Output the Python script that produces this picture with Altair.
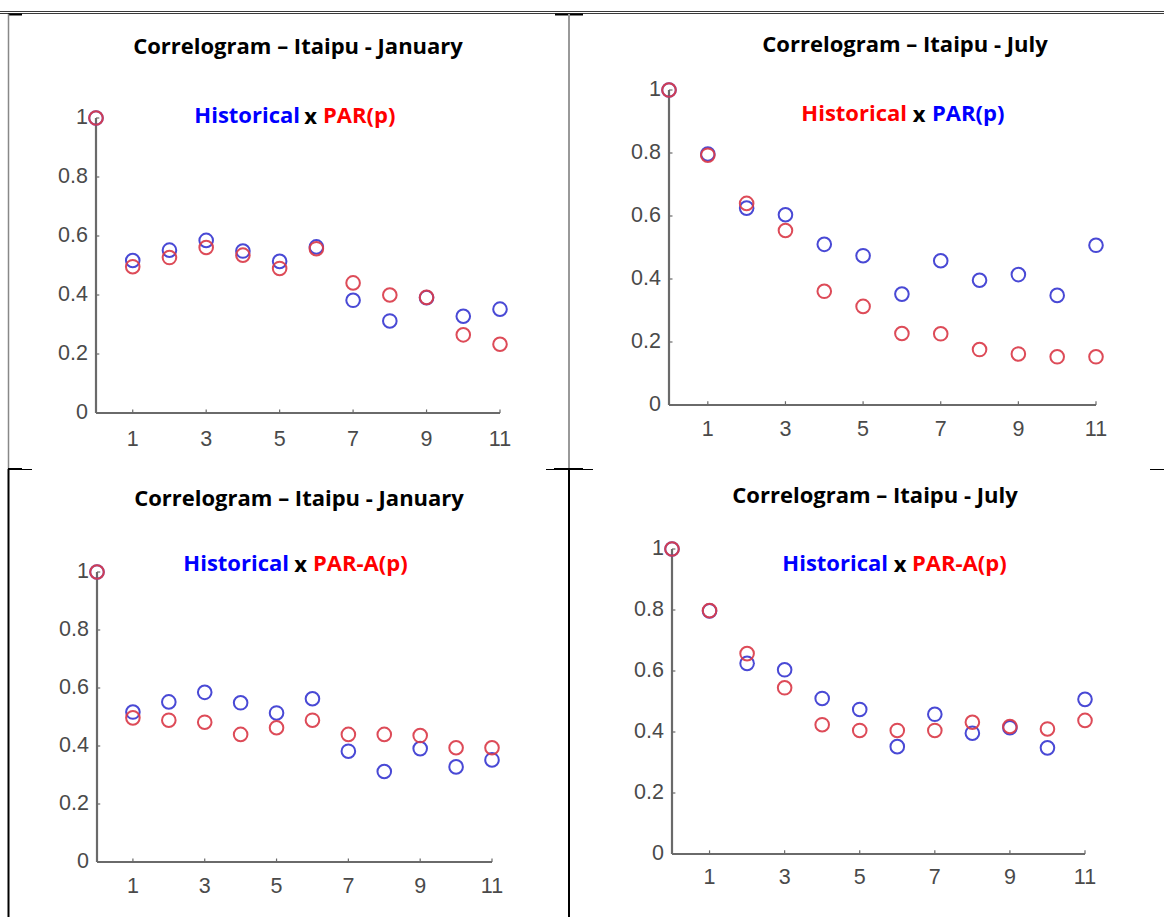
import altair as alt
import pandas as pd

# ---------------- data ----------------
lags = list(range(12))
hist_jan = [1.0, 0.517, 0.552, 0.585, 0.549, 0.514, 0.563, 0.382, 0.312, 0.391, 0.328, 0.352]
hist_jul = [1.0, 0.797, 0.625, 0.604, 0.510, 0.474, 0.352, 0.458, 0.396, 0.414, 0.348, 0.507]
par_jan = [1.0, 0.496, 0.527, 0.561, 0.535, 0.490, 0.557, 0.441, 0.400, 0.392, 0.265, 0.233]
par_jul = [1.0, 0.793, 0.640, 0.554, 0.361, 0.313, 0.227, 0.226, 0.176, 0.162, 0.153, 0.153]
para_jan = [1.0, 0.497, 0.489, 0.482, 0.440, 0.463, 0.489, 0.440, 0.440, 0.436, 0.394, 0.394]
para_jul = [1.0, 0.798, 0.657, 0.545, 0.424, 0.405, 0.405, 0.405, 0.432, 0.418, 0.410, 0.438]

x_tick_vals = [1, 3, 5, 7, 9, 11]
x_tick_text = ["1", "3", "5", "7", "9", "11"]
y_tick_vals = [0, 0.2, 0.4, 0.6, 0.8, 1.0]
y_tick_text = ["0", "0.2", "0.4", "0.6", "0.8", "1"]

titles = ["Correlogram \u2013 Itaipu - January", "Correlogram \u2013 Itaipu - July",
          "Correlogram \u2013 Itaipu - January", "Correlogram \u2013 Itaipu - July"]
sub_left = ["Historical", "Historical", "Historical", "Historical"]
sub_right = ["PAR(p)", "PAR(p)", "PAR-A(p)", "PAR-A(p)"]

# ---------------- styles ----------------
BLUE_T = "#0000ff"
RED_T = "#ff0000"
BLUE_M = "#3a3ad2"
RED_M = "#db3c4a"
AXIS_C = "#6a6a6a"
LABEL_C = "#4a4a4a"
TFONT = "Open Sans"
NFONT = "Liberation Sans"
TSIZE = 22
NSIZE = 21.5

layout = [
    dict(xr=[96, 500], yr=[413, 118], title=(298, 47), sub=(300, 310.5, 323, 116),
         hist=hist_jan, model=par_jan, lc=BLUE_T, rc=RED_T, xlab_dy=27),
    dict(xr=[669, 1096], yr=[405, 90], title=(905, 45), sub=(907, 919, 932, 114),
         hist=hist_jul, model=par_jul, lc=RED_T, rc=BLUE_T, xlab_dy=25),
    dict(xr=[97, 492], yr=[862, 572], title=(299, 499), sub=(289, 300.5, 313, 564),
         hist=hist_jan, model=para_jan, lc=BLUE_T, rc=RED_T, xlab_dy=25),
    dict(xr=[672, 1085], yr=[854, 549], title=(875, 496), sub=(888, 900, 912, 564),
         hist=hist_jul, model=para_jul, lc=BLUE_T, rc=RED_T, xlab_dy=24),
]

one = pd.DataFrame({"a": [0]})


def text_at(x, y, s, color, size, align, weight="bold", font=TFONT):
    return alt.Chart(one).mark_text(
        text=s, color=color, fontSize=size, font=font, fontWeight=weight,
        align=align, baseline="middle"
    ).encode(x=alt.value(x), y=alt.value(y))


def panel(i, cfg):
    xs = alt.Scale(domain=[0, 11], range=cfg["xr"], nice=False, zero=False)
    ys = alt.Scale(domain=[0, 1], range=cfg["yr"], nice=False, zero=False)

    def X(f):
        return alt.X(f, type="quantitative", scale=xs, axis=None)

    def Y(f):
        return alt.Y(f, type="quantitative", scale=ys, axis=None)

    axes_df = pd.DataFrame({"x": [0, 0], "x2": [11, 0], "y": [0, 0], "y2": [0, 1]})
    axes = alt.Chart(axes_df).mark_rule(color=AXIS_C, strokeWidth=2.2).encode(
        x=X("x"), x2="x2", y=Y("y"), y2="y2")

    yt_df = pd.DataFrame({"y": y_tick_vals, "x": [0] * 6, "x2": [0.09] * 6, "t": y_tick_text})
    yticks = alt.Chart(yt_df).mark_rule(color=AXIS_C, strokeWidth=1.2).encode(
        x=X("x"), x2="x2", y=Y("y"))
    ylabels = alt.Chart(yt_df).mark_text(
        align="right", baseline="middle", dx=-8, fontSize=NSIZE, font=NFONT, color=LABEL_C
    ).encode(x=X("x"), y=Y("y"), text="t:N")

    xt_df = pd.DataFrame({"x": x_tick_vals, "y": [0] * 6, "y2": [0.012] * 6, "t": x_tick_text})
    xticks = alt.Chart(xt_df).mark_rule(color=AXIS_C, strokeWidth=1.2).encode(
        x=X("x"), y=Y("y"), y2="y2")
    xlabels = alt.Chart(xt_df).mark_text(
        align="center", baseline="middle", dy=cfg["xlab_dy"], fontSize=NSIZE, font=NFONT, color=LABEL_C
    ).encode(x=X("x"), y=Y("y"), text="t:N")

    pts = pd.DataFrame({"lag": lags, "hist": cfg["hist"], "model": cfg["model"]})
    p_hist = alt.Chart(pts).mark_point(
        shape="circle", filled=False, size=185, strokeWidth=2, color=BLUE_M, opacity=0.92
    ).encode(x=X("lag"), y=Y("hist"))
    p_model = alt.Chart(pts).mark_point(
        shape="circle", filled=False, size=185, strokeWidth=2, color=RED_M, opacity=0.92
    ).encode(x=X("lag"), y=Y("model"))

    return alt.layer(axes, yticks, xticks, ylabels, xlabels, p_hist, p_model)


layers = [panel(i, c) for i, c in enumerate(layout)]

# titles and subtitles
texts = []
for i, c in enumerate(layout):
    tx, ty = c["title"]
    texts.append(text_at(tx, ty, titles[i], "#000000", TSIZE, "center"))
    xr_, xc, xl, sy = c["sub"]
    texts.append(text_at(xr_, sy, sub_left[i], c["lc"], TSIZE, "right"))
    texts.append(text_at(xc, sy + 1, "x", "#000000", TSIZE, "center"))
    texts.append(text_at(xl, sy, sub_right[i], c["rc"], TSIZE, "left"))


# table borders
def hline(x1, x2, y, color="#000000", w=1.0):
    return alt.Chart(one).mark_rule(color=color, strokeWidth=w).encode(
        x=alt.value(x1), x2=alt.value(x2), y=alt.value(y))


def vline(x, y1, y2, color="#000000", w=1.0):
    return alt.Chart(one).mark_rule(color=color, strokeWidth=w).encode(
        x=alt.value(x), y=alt.value(y1), y2=alt.value(y2))


borders = [
    hline(0, 1164, 11.5, "#3a3a3a", 1),
    hline(0, 1164, 13.5, "#3a3a3a", 1),
    hline(8, 22, 14.5, "#000000", 2),
    hline(555, 583, 14.5, "#000000", 2),
    vline(8.5, 14, 469, "#888888", 1.5),
    vline(8.5, 469, 917, "#000000", 2),
    vline(569, 14, 469, "#999999", 2),
    vline(569, 469, 917, "#000000", 2),
    hline(8, 32, 469.5, "#000000", 1),
    hline(8, 22, 469, "#000000", 2),
    hline(546, 593, 469.5, "#000000", 1),
    hline(554, 583, 469, "#000000", 2),
    hline(1150, 1164, 469.5, "#000000", 1),
]

chart = alt.layer(*borders, *layers, *texts).resolve_scale(
    x="independent", y="independent"
).properties(
    width=1164, height=917,
    autosize=alt.AutoSizeParams(type="none"),
    padding=0, background="#ffffff"
).configure_view(stroke=None)

chart.save("out.html", embed_options={"renderer": "svg", "actions": False})
